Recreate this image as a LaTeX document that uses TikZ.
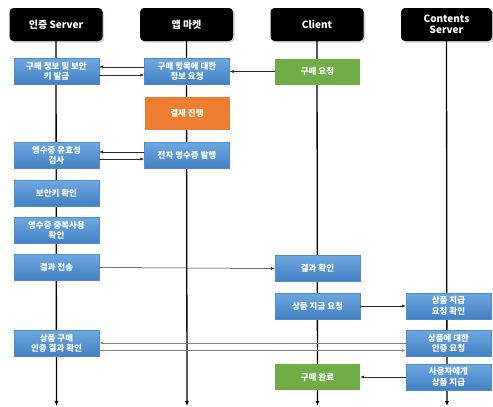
\documentclass[tikz,border=0pt]{standalone}
\usepackage{fontspec}
\setmainfont{Noto Sans CJK KR}
\usetikzlibrary{arrows.meta,shadows}
\definecolor{btop}{RGB}{110,168,224}
\definecolor{bbot}{RGB}{66,128,194}
\definecolor{bedge}{RGB}{80,140,205}
\definecolor{gfill}{RGB}{112,173,71}
\definecolor{ofill}{RGB}{237,125,49}
\definecolor{arrc}{RGB}{40,40,40}
\definecolor{garrc}{RGB}{130,130,130}
\begin{document}
\begin{tikzpicture}[x=1pt,y=-1pt,
  hdr/.style={fill=black,rounded corners=4pt,minimum width=93pt,minimum height=33pt,text=white,font=\fontsize{10}{11.5}\selectfont\bfseries,align=center,drop shadow={shadow xshift=1.5pt,shadow yshift=-1.5pt,opacity=0.35}},
  base/.style={minimum width=85pt,minimum height=26pt,text=white,font=\fontsize{8.5}{10.5}\selectfont\bfseries,align=center,inner sep=1pt},
  bbox/.style={base,top color=btop,bottom color=bbot,draw=bedge,line width=0.3pt},
  gbox/.style={base,fill=gfill},
  obox/.style={base,fill=ofill,minimum height=33pt},
  life/.style={line width=1.3pt,-{Latex[length=5pt,width=4pt]}},
  arr/.style={line width=0.5pt,draw=arrc,-{Latex[length=4pt,width=3pt]}},
  garr/.style={line width=0.8pt,draw=garrc,-{Latex[length=4pt,width=3pt]}}
]
\useasboundingbox (0,0) rectangle (493,407);
% headers
\node[hdr] (h1) at (56,24.5) {인증 Server};
\node[hdr] (h2) at (186.5,24.5) {앱 마켓};
\node[hdr] (h3) at (317,24.5) {Client};
\node[hdr,minimum width=91pt] (h4) at (446.5,24.5) {Contents\\Server};
% lifeline ends
\coordinate (e1) at (56.5,406);
\coordinate (e2) at (187,406);
\coordinate (e3) at (317.5,406);
\coordinate (e4) at (447,406);
\draw[life] (h1.south) -- (e1);
\draw[life] (h2.south) -- (e2);
\draw[life] (h3.south) -- (e3);
\draw[life] (h4.south) -- (e4);
% boxes
\node[bbox] (a1) at (56.5,71.5) {구매 정보 및 보안\\키 발급};
\node[bbox] (m1) at (187,71.5) {구매 항목에 대한\\정보 요청};
\node[gbox] (c1) at (317.5,71.5) {구매 요청};
\node[obox] (m2) at (187,113.5) {결제 진행};
\node[bbox] (a2) at (56.5,155.5) {영수증 유효성\\검사};
\node[bbox] (m3) at (187,155.5) {전자 영수증 발행};
\node[bbox] (a3) at (56.5,193.5) {보안키 확인};
\node[bbox] (a4) at (56.5,230.5) {영수증 중복사용\\확인};
\node[bbox] (a5) at (56.5,267.5) {결과 전송};
\node[bbox] (c2) at (317.5,268.5) {결과 확인};
\node[bbox] (c3) at (317.5,306) {상품 지급 요청};
\node[bbox] (s1) at (448.5,306) {상품 지급\\요청 확인};
\node[bbox] (a6) at (56.5,343.5) {상품 구매\\인증 결과 확인};
\node[bbox] (s2) at (448.5,343.5) {상품에 대한\\인증 요청};
\node[gbox] (c4) at (317.5,377) {구매 완료};
\node[bbox] (s3) at (448.5,377) {사용자에게\\상품 지급};
% connectors
\draw[arr] (c1.west) -- (m1.east);
\draw[arr] ([yshift=4.5pt]m1.west) -- ([yshift=4.5pt]a1.east);
\draw[arr] ([yshift=-3.5pt]a1.east) -- ([yshift=-3.5pt]m1.west);
\draw[arr] ([yshift=3.5pt]m3.west) -- ([yshift=3.5pt]a2.east);
\draw[arr] ([yshift=-3.5pt]a2.east) -- ([yshift=-3.5pt]m3.west);
\draw[arr] (a5.east) -- (c2.west);
\draw[arr] (c3.east) -- (s1.west);
\draw[garr] ([yshift=0.5pt]s2.west) -- ([yshift=0.5pt]a6.east);
\draw[garr] ([yshift=-7pt]a6.east) -- ([yshift=-7pt]s2.west);
\draw[arr] (s3.west) -- (c4.east);
\end{tikzpicture}
\end{document}
